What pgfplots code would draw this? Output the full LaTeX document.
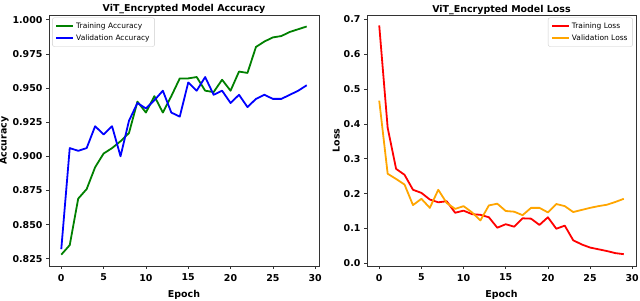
\documentclass[border=0pt]{standalone}
\usepackage{fontspec}
\setmainfont{DejaVu Sans}
\usepackage{pgfplots}
\pgfplotsset{compat=1.18}
\definecolor{mgreen}{RGB}{0,128,0}
\definecolor{mblue}{RGB}{0,0,255}
\definecolor{mred}{RGB}{255,0,0}
\definecolor{morange}{RGB}{255,165,0}
\pgfplotsset{
  mystyle/.style={
    scale only axis,
    width=270bp, height=251bp,
    xmin=-1.45, xmax=30.45,
    xtick={0,5,...,30},
    axis line style={draw=black!80, line width=0.6pt},
    tick align=outside,
    xtick pos=bottom, ytick pos=left,
    major tick length=3pt,
    tick style={black!80, line width=0.6pt},
    /pgf/number format/assume math mode=true,
    ticklabel style={font=\bfseries\fontsize{9.5}{11}\selectfont},
    xticklabel style={yshift=-1.5pt},
    label style={font=\bfseries\fontsize{9.5}{11}\selectfont},
    every axis title/.style={font=\bfseries\fontsize{9.5}{11}\selectfont, at={(0.5,1)}, anchor=base, yshift=3bp, inner sep=0pt},
    xlabel={Epoch},
    xlabel style={yshift=-2pt},
    ylabel style={yshift=-3pt},
    legend style={draw=black!20, rounded corners=2pt, font=\fontsize{7.5}{9}\selectfont,
      cells={anchor=west}, inner sep=3pt, row sep=0.5pt},
    legend image post style={line width=1.8pt},
    every axis plot/.append style={line width=1.8pt, mark=none, line join=round},
  }
}
\begin{document}
\begin{tikzpicture}[x=1bp,y=1bp]
\useasboundingbox (0,0) rectangle (640,300);
\begin{axis}[mystyle, at={(49bp,34bp)}, anchor=south west,
  ymin=0.8197, ymax=1.0034,
  ytick={0.825,0.85,0.875,0.9,0.925,0.95,0.975,1.0},
  yticklabel style={/pgf/number format/.cd, fixed, fixed zerofill, precision=3},
  ylabel={Accuracy},
  title={ViT\_Encrypted Model Accuracy},
  legend style={at={(0.012,0.99)}, anchor=north west}]
\addplot[mgreen] coordinates {
(0,0.828)(1,0.835)(2,0.869)(3,0.876)(4,0.892)(5,0.902)(6,0.906)(7,0.911)(8,0.917)(9,0.940)
(10,0.932)(11,0.944)(12,0.932)(13,0.944)(14,0.957)(15,0.957)(16,0.958)(17,0.948)(18,0.947)(19,0.956)
(20,0.948)(21,0.962)(22,0.961)(23,0.980)(24,0.984)(25,0.987)(26,0.988)(27,0.991)(28,0.993)(29,0.995)};
\addlegendentry{Training Accuracy}
\addplot[mblue] coordinates {
(0,0.832)(1,0.906)(2,0.904)(3,0.906)(4,0.922)(5,0.916)(6,0.922)(7,0.900)(8,0.926)(9,0.939)
(10,0.935)(11,0.941)(12,0.948)(13,0.932)(14,0.929)(15,0.954)(16,0.948)(17,0.958)(18,0.945)(19,0.948)
(20,0.939)(21,0.945)(22,0.936)(23,0.942)(24,0.945)(25,0.942)(26,0.942)(27,0.945)(28,0.948)(29,0.952)};
\addlegendentry{Validation Accuracy}
\end{axis}
\begin{axis}[mystyle, at={(367bp,34bp)}, anchor=south west, width=269bp,
  ymin=-0.008, ymax=0.713,
  ytick={0,0.1,...,0.7},
  yticklabel style={/pgf/number format/.cd, fixed, fixed zerofill, precision=1},
  ylabel={Loss},
  title={ViT\_Encrypted Model Loss},
  legend style={at={(0.988,0.99)}, anchor=north east}]
\addplot[mred] coordinates {
(0,0.683)(1,0.389)(2,0.271)(3,0.254)(4,0.211)(5,0.202)(6,0.183)(7,0.175)(8,0.178)(9,0.145)
(10,0.151)(11,0.141)(12,0.139)(13,0.132)(14,0.102)(15,0.112)(16,0.105)(17,0.129)(18,0.128)(19,0.110)
(20,0.132)(21,0.099)(22,0.108)(23,0.066)(24,0.054)(25,0.045)(26,0.040)(27,0.035)(28,0.029)(29,0.026)};
\addlegendentry{Training Loss}
\addplot[morange] coordinates {
(0,0.467)(1,0.257)(2,0.242)(3,0.226)(4,0.167)(5,0.185)(6,0.159)(7,0.211)(8,0.173)(9,0.156)
(10,0.164)(11,0.146)(12,0.123)(13,0.166)(14,0.171)(15,0.150)(16,0.148)(17,0.138)(18,0.159)(19,0.159)
(20,0.146)(21,0.170)(22,0.164)(23,0.147)(24,0.153)(25,0.159)(26,0.164)(27,0.168)(28,0.176)(29,0.185)};
\addlegendentry{Validation Loss}
\end{axis}
\end{tikzpicture}
\end{document}
